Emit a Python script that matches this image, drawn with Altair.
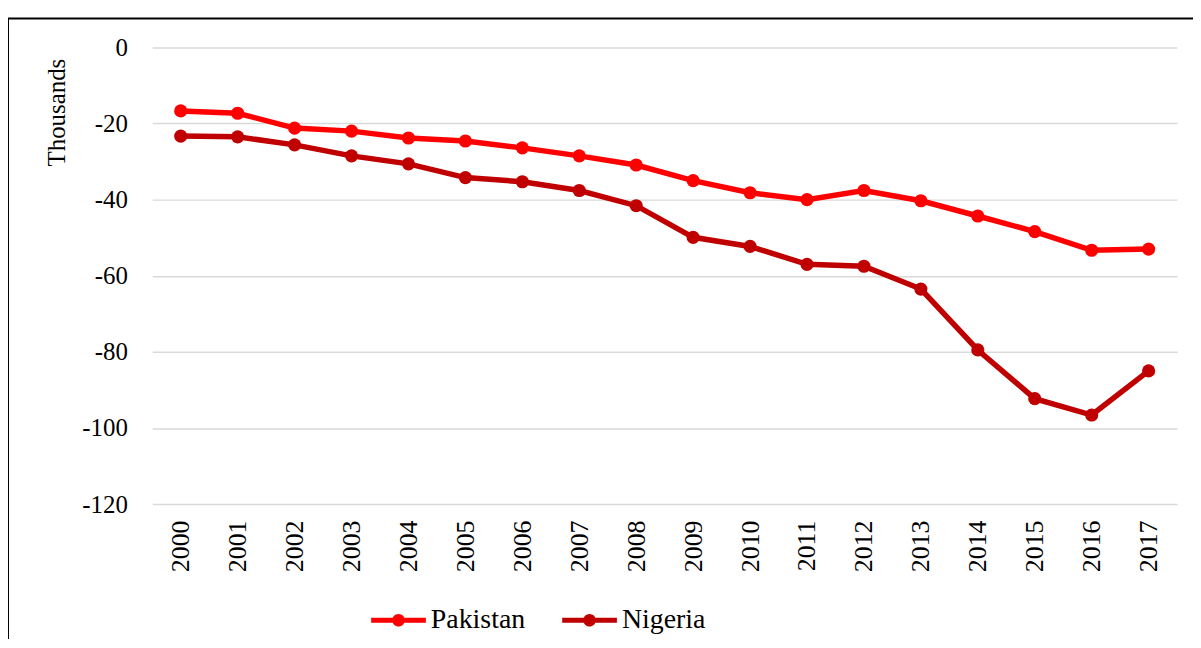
import altair as alt
import pandas as pd

years = [str(y) for y in range(2000, 2018)]
pakistan = [-16.7, -17.3, -21.2, -22.0, -23.8, -24.6, -26.4, -28.5, -30.9, -35.0,
            -38.2, -40.0, -37.6, -40.3, -44.3, -48.4, -53.3, -53.0]
nigeria = [-23.3, -23.5, -25.6, -28.5, -30.6, -34.2, -35.3, -37.6, -41.6, -49.9,
           -52.3, -57.0, -57.5, -63.5, -79.5, -92.3, -96.6, -85.0]
series = ["Pakistan", "Nigeria"]
colors = ["#FF0000", "#C00000"]
y_ticks = [0, -20, -40, -60, -80, -100, -120]

rows = []
for i, y in enumerate(years):
    rows.append({"year": y, "country": "Pakistan", "value": pakistan[i]})
    rows.append({"year": y, "country": "Nigeria", "value": nigeria[i]})
df = pd.DataFrame(rows)

color = alt.Color("country:N",
                  scale=alt.Scale(domain=series, range=colors),
                  sort=series,
                  legend=alt.Legend(
                      title=None, orient="none", direction="horizontal",
                      legendX=220, legendY=548,
                      symbolType="M-1,-0.09 L1,-0.09 L1,0.09 L-1,0.09 Z M-0.23,0 A0.23,0.23 0 1,1 0.23,0 A0.23,0.23 0 1,1 -0.23,0 Z",
                      symbolSize=3025, symbolStrokeWidth=0,
                      labelFontSize=28, labelColor="#000000", labelOffset=5,
                      columnPadding=37, labelFont="Liberation Serif"))

x = alt.X("year:O", sort=years, title=None,
          scale=alt.Scale(type="point", padding=0.5),
          axis=alt.Axis(labelAngle=-90, labelAlign="right", labelBaseline="middle",
                        labelFontSize=26, labelPadding=16, ticks=False, domain=False,
                        grid=False, labelColor="#000000"))
y = alt.Y("value:Q", scale=alt.Scale(domain=[-120, 0], nice=False),
          axis=alt.Axis(values=y_ticks, title="Thousands",
                        labelExpr="toString(datum.value)",
                        titleFontSize=25, titleFontWeight="normal", titleColor="#000000",
                        titleX=-96, titleY=65, titleAngle=-90, titleAlign="center",
                        titleBaseline="middle",
                        labelFontSize=25, labelPadding=25, ticks=False, domain=False,
                        grid=True, gridColor="#D9D9D9", gridWidth=1.5,
                        labelColor="#000000"))

base = alt.Chart(df)
lines = base.mark_line(strokeWidth=5.5).encode(x=x, y=y, color=color, detail="country:N")
points = base.mark_point(filled=True, size=175, opacity=1).encode(x=x, y=y, color=color)

frame = alt.Chart(pd.DataFrame({"a": [0]})).mark_rect(
    fill=None, stroke="#000000", strokeWidth=2).encode(
    x=alt.value(-145), x2=alt.value(1200), y=alt.value(-29), y2=alt.value(800))

chart = alt.layer(frame, lines, points).properties(
    width=1030, height=459,
    padding={"left": 145, "top": 38, "right": 16, "bottom": 134},
    autosize=alt.AutoSizeParams(type="none"),
).configure(font="Liberation Serif").configure_view(stroke=None)

chart.save("out.html", embed_options={"renderer": "svg", "actions": False})
